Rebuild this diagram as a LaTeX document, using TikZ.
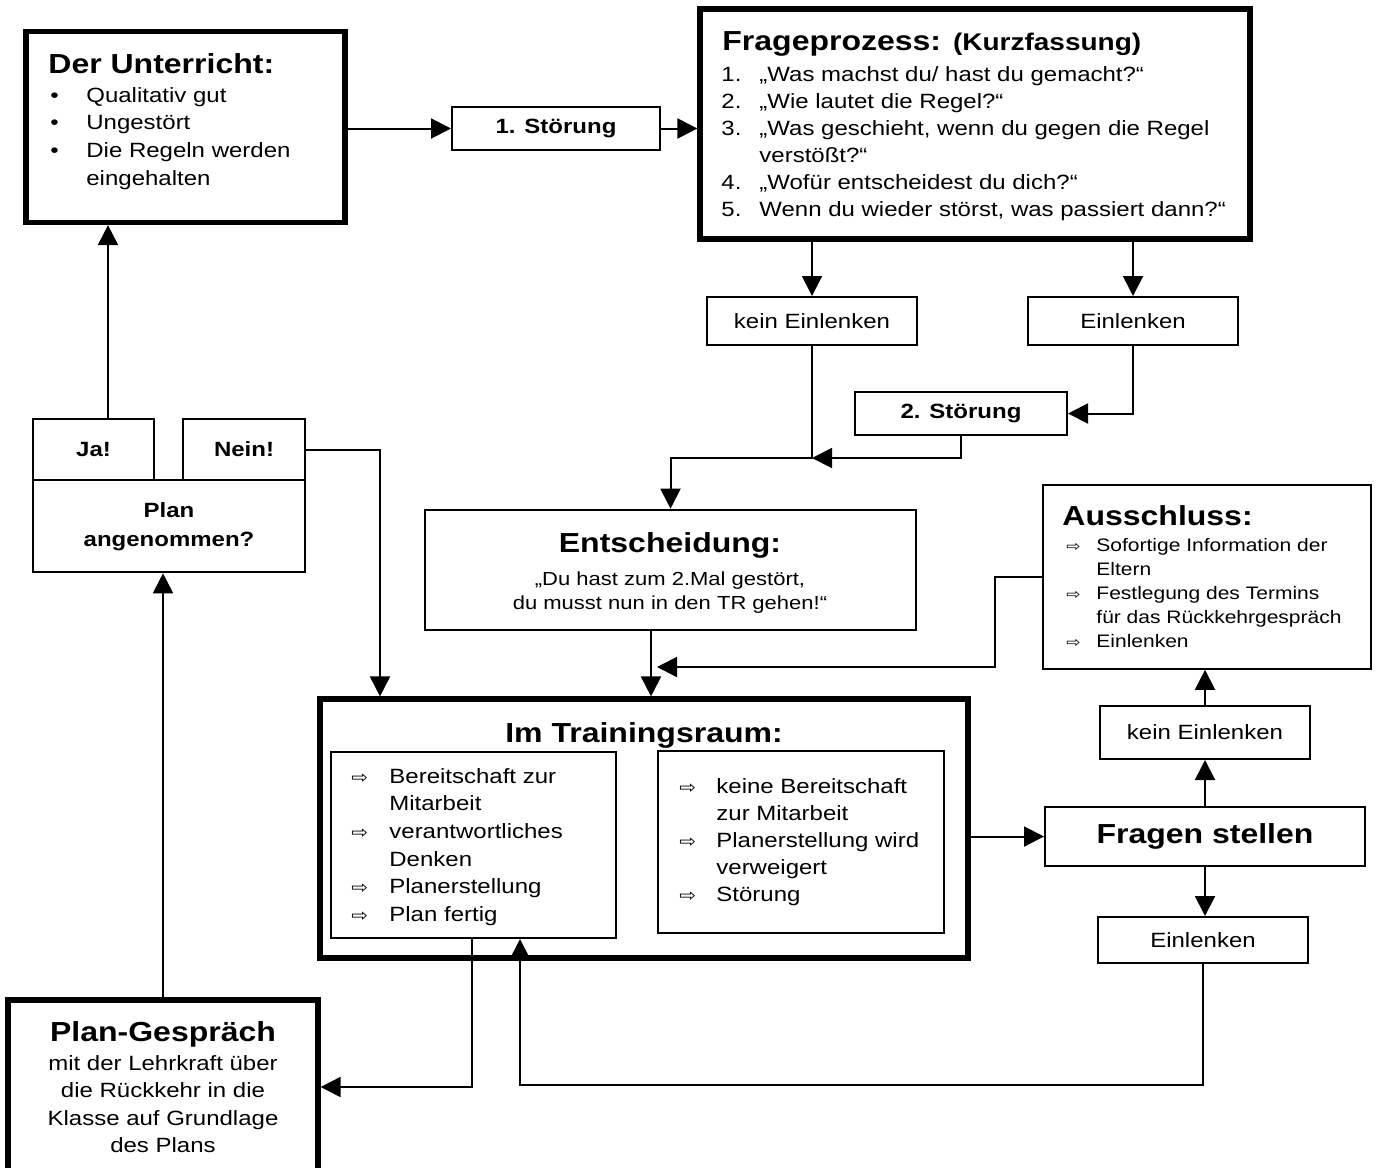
\documentclass[tikz,border=0pt]{standalone}
\usepackage{graphicx}
\usepackage{fontspec}
\setmainfont{Liberation Sans}
\newfontfamily\symfont{DejaVu Sans}
\usetikzlibrary{arrows.meta,fit}

% Text leicht gestaucht wie im Original
\newcommand{\sq}[1]{\scalebox{1}[0.86]{#1}}
\newcommand{\pf}{{\symfont\fontsize{10}{10}\selectfont ⇨}}
\newcommand{\pfk}{{\symfont\fontsize{8.5}{8.5}\selectfont ⇨}}
\newcommand{\titel}{\fontsize{16}{19}\selectfont\bfseries}
\newcommand{\normal}[1]{\fontsize{12}{#1}\selectfont}

\tikzset{
  every node/.style={font=\fontsize{12}{14}\selectfont},
  dickkasten/.style={draw, line width=2.6pt, inner sep=0pt},
  kasten/.style={draw, line width=1pt, inner sep=0pt},
  mittelkasten/.style={draw, line width=1.3pt, inner sep=0pt},
  duennkasten/.style={draw, line width=0.8pt, inner sep=0pt},
  schrift/.style={inner sep=0pt, anchor=base west},
  mschrift/.style={inner sep=0pt, anchor=base},
  verbinder/.style={line width=1pt, -{Triangle[length=10pt,width=10pt]}}
}

\begin{document}
\begin{tikzpicture}[x=0.5pt, y=-0.5pt]
    \useasboundingbox (0,0) rectangle (1384,1167);

    % Der Unterricht
    \node[dickkasten, fit={(26,31.5) (345,222.5)}] (unterricht) {};
    \node[schrift] at (48,73) {\sq{\titel Der Unterricht:}};
    \node[schrift] at (50,102) {\sq{\normal{16.1}\begin{tabular}[t]{@{}p{18pt}@{}l@{}}
        \textbullet & Qualitativ gut\\
        \textbullet & Ungestört\\
        \textbullet & Die Regeln werden\\
                    & eingehalten
      \end{tabular}}};

    % Störungen
    \node[kasten, minimum width=104pt, minimum height=21.5pt] (stoerung1) at (556,128.5) {\sq{\bfseries 1. Störung}};
    \node[kasten, minimum width=106pt, minimum height=21.5pt] (stoerung2) at (961,413.5) {\sq{\bfseries 2. Störung}};

    % Frageprozess
    \node[dickkasten, fit={(700,9) (1250,239)}] (frage) {};
    \node[schrift] at (722,50) {\sq{\titel Frageprozess: {\fontsize{14}{17}\selectfont(Kurzfassung)}}};
    \node[schrift] at (721,81) {\sq{\normal{15.8}\begin{tabular}[t]{@{}p{19pt}@{}l@{}}
        1. & „Was machst du/ hast du gemacht?“\\
        2. & „Wie lautet die Regel?“\\
        3. & „Was geschieht, wenn du gegen die Regel\\
           & verstößt?“\\
        4. & „Wofür entscheidest du dich?“\\
        5. & Wenn du wieder störst, was passiert dann?“
      \end{tabular}}};

    \node[kasten, minimum width=105pt, minimum height=24pt] (kein1) at (812,321) {\sq{kein Einlenken}};
    \node[kasten, minimum width=105pt, minimum height=24pt] (ein1) at (1133,321) {\sq{Einlenken}};

    % Entscheidung
    \node[mittelkasten, fit={(425,510) (916,630)}] (entscheidung) {};
    \node[mschrift] at (670,552) {\sq{\titel Entscheidung:}};
    \node[mschrift] at (670,585) {\sq{\fontsize{11}{14}\selectfont\begin{tabular}[t]{@{}c@{}}
        „Du hast zum 2.Mal gestört,\\
        du musst nun in den TR gehen!“
      \end{tabular}}};

    % Ausschluss
    \node[duennkasten, fit={(1043,485) (1371,669)}] (ausschluss) {};
    \node[schrift] at (1062,525) {\sq{\titel Ausschluss:}};
    \node[schrift] at (1066,551) {\sq{\fontsize{10.5}{14}\selectfont\begin{tabular}[t]{@{}p{15pt}@{}l@{}}
        \pfk & Sofortige Information der\\
             & Eltern\\
        \pfk & Festlegung des Termins\\
             & für das Rückkehrgespräch\\
        \pfk & Einlenken
      \end{tabular}}};

    % Im Trainingsraum
    \node[dickkasten, fit={(320,699) (968,958)}] (training) {};
    \node[mschrift] at (644,742) {\sq{\titel Im Trainingsraum:}};
    \node[kasten, fit={(331,752) (616,938)}] (links) {};
    \node[schrift] at (351,783) {\sq{\normal{16.1}\begin{tabular}[t]{@{}p{19pt}@{}l@{}}
        \pf & Bereitschaft zur\\
            & Mitarbeit\\
        \pf & verantwortliches\\
            & Denken\\
        \pf & Planerstellung\\
        \pf & Plan fertig
      \end{tabular}}};
    \node[kasten, fit={(658,751) (944,933)}] (rechts) {};
    \node[schrift] at (679,793) {\sq{\normal{15.8}\begin{tabular}[t]{@{}p{18.5pt}@{}l@{}}
        \pf & keine Bereitschaft\\
            & zur Mitarbeit\\
        \pf & Planerstellung wird\\
            & verweigert\\
        \pf & Störung
      \end{tabular}}};

    % rechte Spalte
    \node[kasten, minimum width=105pt, minimum height=26.5pt] (kein2) at (1205,732.5) {\sq{kein Einlenken}};
    \node[kasten, minimum width=160pt, minimum height=29.5pt] (fragen) at (1205,836.5) {\sq{\titel Fragen stellen}};
    \node[kasten, minimum width=105pt, minimum height=23pt] (ein2) at (1203,940) {\sq{Einlenken}};

    % Plan
    \node[mittelkasten, minimum width=60.5pt, minimum height=30.5pt] (ja) at (93.5,449.5) {\sq{\bfseries Ja!}};
    \node[mittelkasten, minimum width=61pt, minimum height=30.5pt] (nein) at (244,449.5) {\sq{\bfseries Nein!}};
    \node[mittelkasten, minimum width=136pt, minimum height=46pt] (plan) at (169,526) {\sq{\normal{17.4}\bfseries\begin{tabular}{@{}c@{}}
        Plan\\
        angenommen?
      \end{tabular}}};
    \node[dickkasten, fit={(8,1000) (318,1175)}] (gespraech) {};
    \node[mschrift] at (163,1041) {\sq{\titel Plan-Gespräch}};
    \node[mschrift] at (163,1070) {\sq{\normal{16}\begin{tabular}[t]{@{}c@{}}
        mit der Lehrkraft über\\
        die Rückkehr in die\\
        Klasse auf Grundlage\\
        des Plans
      \end{tabular}}};

    % Verbindungen
    \coordinate (treffen) at (kein1.south |- 0,458);
    \coordinate (knick) at (995,577);
    \coordinate (zurueck) at (657,667);
    \coordinate (unten1) at (520,1085);
    \coordinate (unten2) at (472,1087);

    \draw[verbinder] (unterricht.east |- stoerung1) -- (stoerung1.west);
    \draw[verbinder] (stoerung1.east) -- (frage.west |- stoerung1);
    \draw[verbinder] (frage.south -| kein1) -- (kein1.north);
    \draw[verbinder] (frage.south -| ein1) -- (ein1.north);
    \draw[verbinder] (ein1.south) |- (stoerung2.east);
    \draw[verbinder] (stoerung2.south) |- (treffen);
    \draw[verbinder] (kein1.south) -- (treffen) -| (entscheidung.north);
    \draw[verbinder] (entscheidung.south -| 651,0) -- (training.north -| 651,0);
    \draw[verbinder] (ausschluss.west |- knick) -- (knick) |- (zurueck);
    \draw[verbinder] (training.east |- fragen) -- (fragen.west);
    \draw[verbinder] (fragen.north) -- (kein2.south);
    \draw[verbinder] (kein2.north) -- (kein2.north |- ausschluss.south);
    \draw[verbinder] (fragen.south) -- (fragen.south |- ein2.north);
    \draw[verbinder] (ein2.south) |- (unten1) -- (unten1 |- links.south);
    \draw[verbinder] (links.south -| unten2) -- (unten2) -- (unten2 -| gespraech.east);
    \draw[verbinder] (gespraech.north) -- (gespraech.north |- plan.south);
    \draw[verbinder] (ja.north -| 108,0) -- (unterricht.south -| 108,0);
    \draw[verbinder] (nein.east) -| (training.north -| 380,0);
\end{tikzpicture}
\end{document}
